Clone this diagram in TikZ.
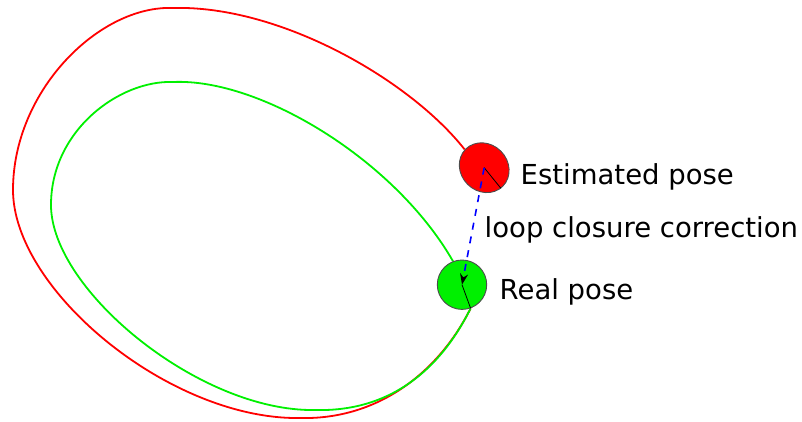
\documentclass[tikz,border=0pt]{standalone}
\usepackage{fontspec}
\setmainfont{DejaVu Sans}
\usetikzlibrary{arrows.meta,shapes.geometric}
\pgfdeclarelayer{bg}
\pgfsetlayers{bg,main}
\definecolor{pred}{RGB}{255,0,0}
\definecolor{pgreen}{RGB}{0,240,0}
\definecolor{pblue}{RGB}{0,0,255}
\tikzset{
  pose/.style={draw=black!70, line width=0.9pt, inner sep=0pt},
  lbl/.style={anchor=base west, inner sep=0pt, font=\fontsize{27.5}{32}\selectfont},
  traj/.style={line width=1.8pt},
}
\begin{document}
\begin{tikzpicture}[x=1pt,y=-1pt]
\useasboundingbox (0,0) rectangle (802,421);
\node[pose, ellipse, minimum width=52.5pt, minimum height=47pt, rotate=-45, fill=pred] (est) at (484.2,167.7) {};
\node[pose, circle, minimum size=49.4pt, fill=pgreen] (real) at (462,284.7) {};
\begin{pgfonlayer}{bg}
\draw[traj, pred] (est.182) .. controls (410,80) and (280,5) .. (173,8)
  .. controls (100,5) and (13,90) .. (13,190)
  .. controls (13,290) and (170,420) .. (300,418)
  .. controls (380,420) and (440,370) .. (real.-70);
\draw[traj, pgreen] (real.111) .. controls (395,160) and (260,78) .. (173,82)
  .. controls (120,80) and (51,130) .. (51,205)
  .. controls (51,290) and (200,412) .. (315,410)
  .. controls (390,412) and (440,370) .. (real.-70);
\end{pgfonlayer}
\draw[black, line width=0.8pt] (est.center) -- (est.-6);
\draw[black, line width=0.8pt] (real.center) -- (real.-70);
\draw[pblue, line width=1.6pt, dash pattern=on 7pt off 7pt, -{Stealth[black, length=11pt, width=8pt]}] (est.center) -- (real.center);
\node[lbl] (estl) at (520.5,184) {Estimated pose};
\node[lbl] (loopl) at (484.5,237) {loop closure correction};
\node[lbl] (reall) at (499.5,299.5) {Real pose};
\end{tikzpicture}
\end{document}
